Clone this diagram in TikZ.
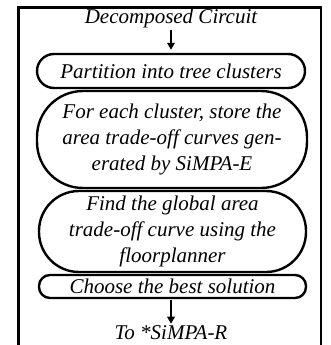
\documentclass[tikz,border=0pt]{standalone}
\usepackage{fontspec}
\setmainfont{Liberation Serif}
\usetikzlibrary{arrows.meta}
\begin{document}
\begin{tikzpicture}[x=1pt,y=-1pt,
  txt/.style={font=\fontsize{21}{26}\selectfont\itshape, inner sep=0pt, align=center},
  stepbox/.style={txt, draw, line width=2.4pt},
  conn/.style={line width=2.2pt, -{Triangle[length=7pt,width=7.5pt]}}]
\useasboundingbox (0,0) rectangle (331,345);
\begin{scope}
\clip (0,0) rectangle (331,345);
\draw[line width=2.6pt] (18.5,7.5) rectangle (321,360);
\end{scope}
\node[txt] (dc) at (171,18) {Decomposed Circuit};
\node[stepbox, minimum width=268pt, minimum height=34pt, rounded corners=17pt] (b1) at (171,71) {Partition into tree clusters};
\node[stepbox, minimum width=270pt, minimum height=97pt, rounded corners=46pt] (b2) at (172,139.5) {\raisebox{-4pt}{\begin{tabular}{@{}c@{}}For each cluster, store the\\area trade-off curves gen-\\erated by SiMPA-E\end{tabular}}};
\node[stepbox, minimum width=267pt, minimum height=81pt, rounded corners=40pt] (b3) at (172.5,231.5) {Find the global area\\trade-off curve using the\\floorplanner};
\node[stepbox, minimum width=267pt, minimum height=23pt, rounded corners=11pt] (b4) at (172.5,286.5) {Choose the best solution};
\node[txt] (out) at (171,333) {To *SiMPA-R};
\draw[conn, shorten <=2pt, shorten >=3pt] (dc.south) -- (dc.south |- b1.north);
\draw[conn, shorten <=1pt, shorten >=2pt] (b4.south -| out.north) -- (out.north);
\end{tikzpicture}
\end{document}
